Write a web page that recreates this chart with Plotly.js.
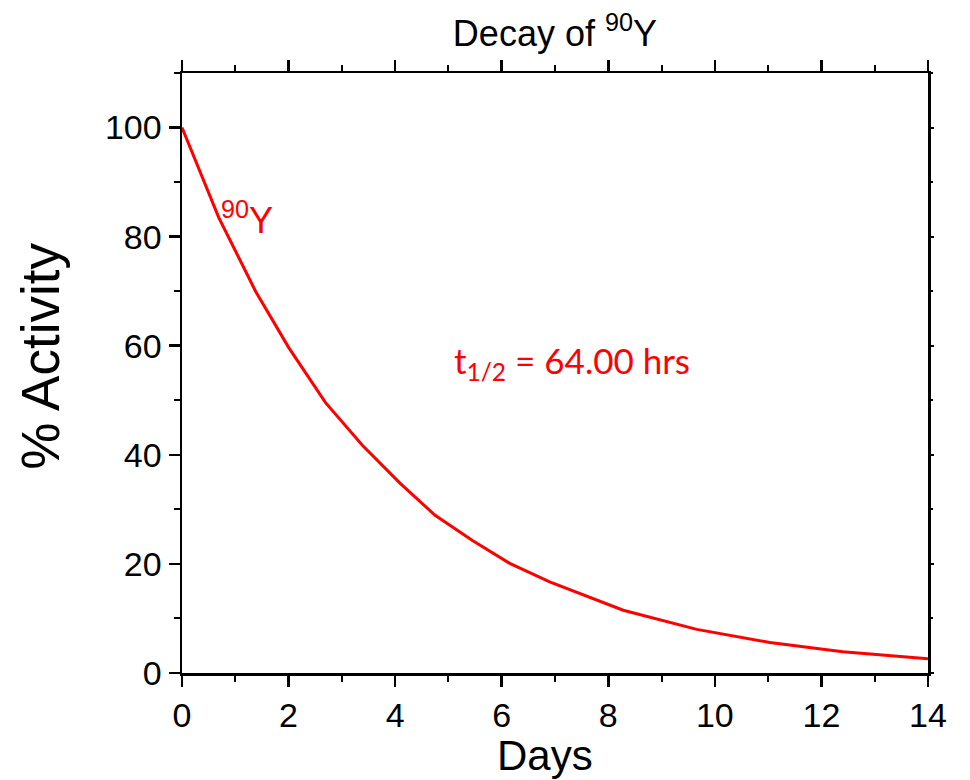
<!DOCTYPE html>
<html>
<head>
<meta charset="utf-8">
<script src="https://cdn.plot.ly/plotly-3.0.1.min.js"></script>
<style>html,body{margin:0;padding:0;background:#fff;}#chart{width:970px;height:780px;}</style>
</head>
<body>
<div id="chart"></div>
<script>
// Days since start
const days = [0, 0.69, 1.38, 2.0, 2.69, 3.38, 4.09, 4.75, 5.45, 6.15, 6.9, 7.6, 8.28, 9.66, 11.03, 12.4, 14.0];
// % activity of 90Y
const activity = [100, 83.5, 70.0, 59.7, 49.6, 41.8, 34.8, 28.9, 24.3, 20.1, 16.7, 14.0, 11.5, 8.0, 5.6, 3.9, 2.6];
const xTicks = [0, 2, 4, 6, 8, 10, 12, 14];
const yTicks = [0, 20, 40, 60, 80, 100];

const black = '#000000';
const red = '#ff0000';
const tickFont = {family: 'Liberation Sans, Arial, sans-serif', size: 34, color: black};

const traces = [
  {x: days, y: activity, type: 'scatter', mode: 'lines', line: {color: red, width: 3}, hoverinfo: 'skip', showlegend: false},
  {x: days, y: activity, type: 'scatter', mode: 'lines', xaxis: 'x2', yaxis: 'y2', line: {color: 'rgba(0,0,0,0)', width: 0}, hoverinfo: 'skip', showlegend: false}
];

const layout = {
  width: 970, height: 780,
  margin: {l: 182, r: 42, t: 73, b: 107},
  paper_bgcolor: '#fff', plot_bgcolor: '#fff',
  showlegend: false,
  title: {text: 'Decay of <sup>90</sup>Y', font: {family: 'Liberation Sans, Arial, sans-serif', size: 36, color: black}, x: 0.5721, xanchor: 'center', y: 0.957, yanchor: 'middle'},
  xaxis: {
    range: [0, 14], tickvals: xTicks, ticktext: xTicks.map(String),
    showgrid: false, zeroline: false, showline: true, linecolor: black, linewidth: 2.5,
    ticks: 'outside', ticklen: 11, tickwidth: 2.5, tickcolor: black,
    minor: {dtick: 1, tick0: 0, ticks: 'outside', ticklen: 6, tickwidth: 2, tickcolor: black, showgrid: false},
    tickfont: tickFont
  },
  yaxis: {
    range: [0, 110], tickvals: yTicks, ticktext: yTicks.map(String),
    showgrid: false, zeroline: false, showline: true, linecolor: black, linewidth: 2.5,
    ticks: 'outside', ticklen: 11, tickwidth: 2.5, tickcolor: black,
    minor: {dtick: 10, tick0: 0, ticks: 'outside', ticklen: 6, tickwidth: 2, tickcolor: black, showgrid: false},
    tickfont: tickFont
  },
  xaxis2: {
    overlaying: 'x', side: 'top', range: [0, 14], dtick: 2, tick0: 0,
    showgrid: false, zeroline: false, showline: true, linecolor: black, linewidth: 2.5,
    ticks: 'outside', ticklen: 11, tickwidth: 2.5, tickcolor: black, showticklabels: false,
    minor: {dtick: 1, tick0: 0, ticks: 'outside', ticklen: 6, tickwidth: 2, tickcolor: black, showgrid: false}
  },
  yaxis2: {
    overlaying: 'y', side: 'right', range: [0, 110], dtick: 20, tick0: 0,
    showgrid: false, zeroline: false, showline: true, linecolor: black, linewidth: 2.5,
    ticks: 'outside', ticklen: 3, tickwidth: 2, tickcolor: black, showticklabels: false,
    minor: {dtick: 10, tick0: 0, ticks: 'outside', ticklen: 2, tickwidth: 2, tickcolor: black, showgrid: false}
  },
  annotations: [
    {x: 0.4866, y: -0.138, xref: 'paper', yref: 'paper', text: 'Days', showarrow: false, font: {family: 'Liberation Sans, Arial, sans-serif', size: 42, color: black}, xanchor: 'center', yanchor: 'middle'},
    {x: -0.189, y: 0.527, xref: 'paper', yref: 'paper', text: '% Activity', textangle: -90, showarrow: false, font: {family: 'Liberation Sans, Arial, sans-serif', size: 53, color: black}, xanchor: 'center', yanchor: 'middle'},
    {x: 1.22, y: 83.5, xref: 'x', yref: 'y', text: '<sup>90</sup>Y', showarrow: false, font: {family: 'Liberation Sans, Arial, sans-serif', size: 36, color: red}, xanchor: 'center', yanchor: 'middle'},
    {x: 7.32, y: 57, xref: 'x', yref: 'y', text: 't<sub>1/2</sub> = 64.00 hrs', showarrow: false, font: {family: 'Lato, Carlito, sans-serif', size: 35, color: red}, xanchor: 'center', yanchor: 'middle'}
  ]
};

Plotly.newPlot('chart', traces, layout, {staticPlot: true, displayModeBar: false});
</script>
</body>
</html>
